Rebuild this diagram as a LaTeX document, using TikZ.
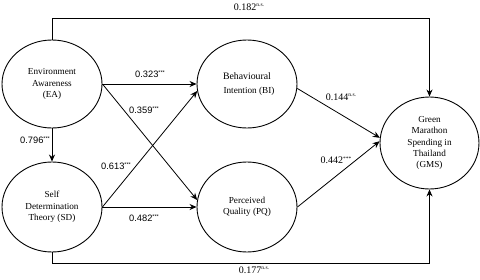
\documentclass[tikz,border=0pt]{standalone}
\usepackage{fontspec}
\setmainfont{Liberation Serif}
\newfontfamily\labsans{Liberation Sans}
\usetikzlibrary{shapes.geometric,arrows.meta}
\newcommand{\sigmark}[1]{\raisebox{0.75ex}{\fontsize{5.5pt}{6pt}\selectfont #1}}
\begin{document}
\begin{tikzpicture}[x=1pt,y=-1pt,
  var/.style={draw, ellipse, line width=0.9pt, inner sep=0pt, minimum width=100pt, minimum height=88pt, align=center, font=\fontsize{9.2pt}{11.4pt}\selectfont},
  conn/.style={line width=0.8pt, -{Stealth[length=7pt,width=6pt]}},
  lab/.style={inner sep=0pt, font=\labsans\fontsize{9.3pt}{10pt}\selectfont},
  labs/.style={inner sep=0pt, font=\fontsize{10pt}{10pt}\selectfont}]
\useasboundingbox (0,0) rectangle (480,279);
\node[var] (EA) at (52,84) {Environment\\Awareness\\(EA)};
\node[var, minimum height=90pt] (SD) at (52,207) {Self\\Determination\\Theory (SD)};
\node[var] (BI) at (247,84) {{\fontsize{9.8pt}{11pt}\selectfont Behavioural}\\[2pt]\hspace*{4pt}Intention (BI)};
\node[var, minimum height=90pt] (PQ) at (247,207) {Perceived\\Quality (PQ)};
\node[var, minimum width=99pt, minimum height=92pt] (GMS) at (429.5,143) {Green\\Marathon\\Spending in\\Thailand\\(GMS)};
\coordinate (t2) at (429.5,18);
\coordinate (b2) at (429.5,263);
\draw[conn] (EA.north) |- (t2) -- (GMS.north);
\draw[conn] (SD.south) |- (b2) -- (GMS.south);
\draw[conn] (EA.south) -- (SD.north);
\draw[conn] (EA.east) -- (BI.west);
\draw[conn] (EA.east) -- (PQ.172);
\draw[conn] (SD.east) -- (BI.188);
\draw[conn] (SD.east) -- (PQ.west);
\draw[conn] (BI.-5) -- (GMS.174);
\draw[conn] (PQ.east) -- (GMS.178);
\node[labs] (l182) at (249,7) {0.182\sigmark{n.s.}};
\node[labs] (l177) at (254,270) {0.177\sigmark{n.s.}};
\node[lab] (l796) at (35,140) {0.796\sigmark{***}};
\node[lab] (l323) at (150,74) {0.323\sigmark{***}};
\node[lab] (l359) at (144,110) {0.359\sigmark{***}};
\node[lab] (l613) at (116,166) {0.613\sigmark{***}};
\node[lab] (l482) at (144,218) {0.482\sigmark{***}};
\node[labs] (l144) at (341,97) {0.144\sigmark{n.s.}};
\node[labs] (l442) at (336,160) {0.442\sigmark{***}};
\end{tikzpicture}
\end{document}
